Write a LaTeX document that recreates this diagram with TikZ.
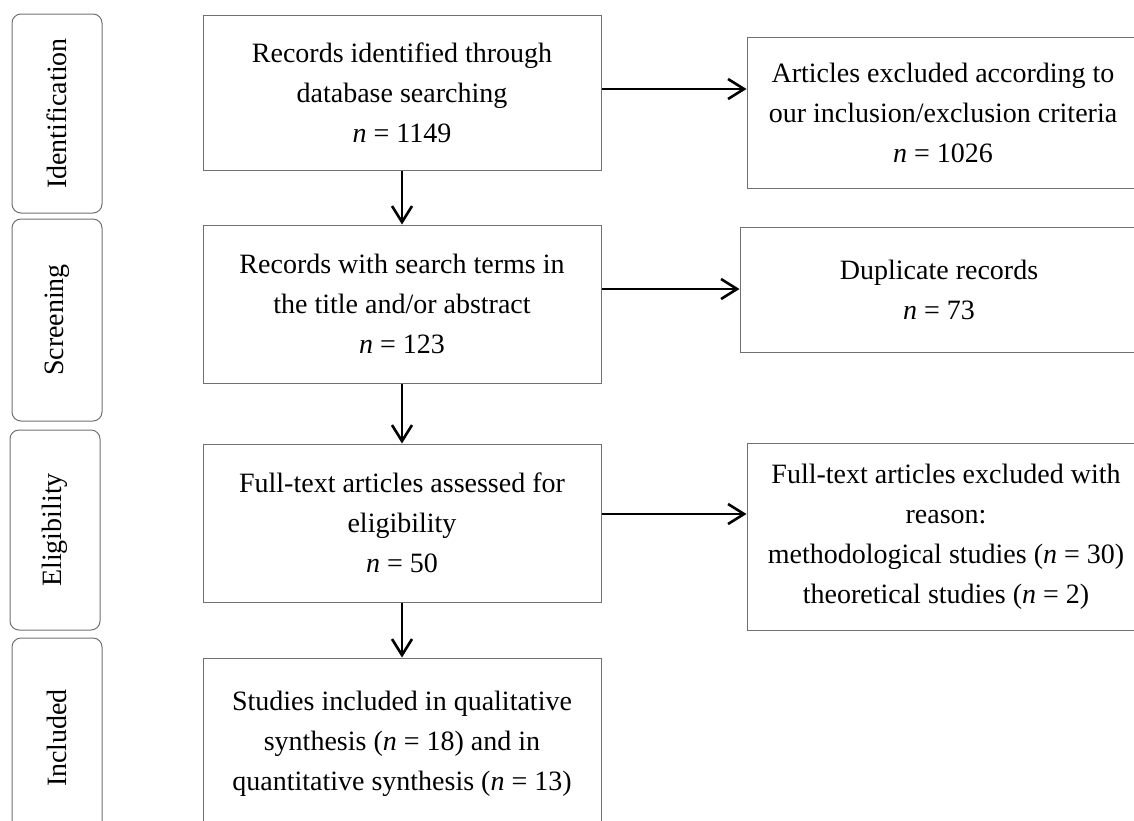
\documentclass[tikz,border=0pt]{standalone}
\usepackage{fontspec}
\setmainfont{Liberation Serif}
\usetikzlibrary{arrows.meta,positioning}

\definecolor{boxgray}{RGB}{112,112,112}

\begin{document}
\begin{tikzpicture}[x=0.5pt,y=-0.5pt,
  box/.style={draw=boxgray, line width=0.5pt, align=center, inner sep=0pt,
    font=\fontsize{14}{20}\selectfont},
  phase/.style={draw=boxgray, line width=0.5pt, rounded corners=4.5pt, rotate=90,
    minimum height=45pt, inner sep=0pt, font=\fontsize{14}{20}\selectfont},
  flow/.style={-{Straight Barb[length=8pt,width=10pt,line width=1.3pt]}, line width=1.3pt}]

\useasboundingbox (0,0) rectangle (1134,820);
\clip (0,0) rectangle (1134,820);

% phase boxes
\node[phase, minimum width=99.5pt] (identification) at (57,113.5) {Identification};
\node[phase, minimum width=101pt] (screening) at (57,320) {Screening};
\node[phase, minimum width=100pt] (eligibility) at (55,530) {Eligibility};
\node[phase, minimum width=100pt] (includedphase) at (57,738) {Included};

% main boxes
\node[box, minimum width=199pt, minimum height=77.5pt] (records) at (402,92.5)
  {Records identified through\\database searching\\\textit{n} = 1149};
\node[box, minimum width=199pt, minimum height=79pt, below=27pt of records] (screened)
  {Records with search terms in\\the title and/or abstract\\\textit{n} = 123};
\node[box, minimum width=199pt, minimum height=79pt, below=30pt of screened] (fulltext)
  {Full-text articles assessed for\\eligibility\\\textit{n} = 50};
\node[box, minimum width=199pt, minimum height=86pt, below=27.5pt of fulltext] (included)
  {Studies included in qualitative\\synthesis (\textit{n} = 18) and in\\quantitative synthesis (\textit{n} = 13)};

% excluded boxes
\node[box, minimum width=196pt, minimum height=75.5pt] (excluded) at (943,112.5)
  {Articles excluded according to\\our inclusion/exclusion criteria\\\textit{n} = 1026};
\node[box, minimum width=199pt, minimum height=62.5pt] (duplicates) at (939,289.5)
  {Duplicate records\\\textit{n} = 73};
\node[box, minimum width=199pt, minimum height=93.5pt] (reasons) at (946,536.5)
  {Full-text articles excluded with\\reason:\\methodological studies (\textit{n} = 30)\\theoretical studies (\textit{n} = 2)};

% connections
\draw[flow] (records) -- (screened);
\draw[flow] (screened) -- (fulltext);
\draw[flow] (fulltext) -- (included);
\draw[flow] ([yshift=1.75pt]records.east) -- ([yshift=1.75pt]records.east -| excluded.west);
\draw[flow] ([yshift=7.5pt]screened.east) -- ([yshift=7.5pt]screened.east -| duplicates.west);
\draw[flow] ([yshift=4.5pt]fulltext.east) -- ([yshift=4.5pt]fulltext.east -| reasons.west);

\end{tikzpicture}
\end{document}
